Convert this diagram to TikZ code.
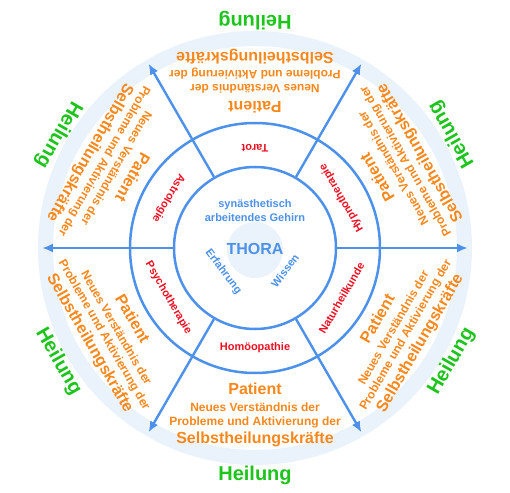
\documentclass[tikz,border=0pt]{standalone}
\usepackage{fontspec}
\setmainfont{Liberation Sans}
\usetikzlibrary{arrows.meta}
\definecolor{wheelblue}{RGB}{77,145,235}
\definecolor{paleblue}{RGB}{234,243,252}
\definecolor{txtorange}{RGB}{248,136,28}
\definecolor{txtgreen}{RGB}{28,196,28}
\definecolor{txtred}{RGB}{236,16,36}
\newcommand\sectorblock[3]{%
  \pgfmathsetmacro\rot{#1+90}%
  \node[redlab, rotate=\rot] (lab#2) at (#1:100) {#3};
  \node[patlab, rotate=\rot] (pat#2) at (#1:141) {Patient};
  \node[smalllab, rotate=\rot] (neu#2) at (#1:159.5) {Neues Verständnis der};
  \node[smalllab, rotate=\rot] (pro#2) at (#1:174.5) {Probleme und Aktivierung der};
  \node[biglab, rotate=\rot] (sel#2) at (#1:191) {Selbstheilungskräfte};
  \node[heillab, rotate=\rot] (hei#2) at (#1:227) {Heilung};
}
\begin{document}
\begin{tikzpicture}[x=1pt,y=1pt,
  ring/.style={circle, draw=wheelblue, line width=2.5pt, inner sep=0pt},
  spoke/.style={draw=wheelblue, line width=2.4pt, -{Latex[length=11pt,width=9pt]}},
  redlab/.style={text=txtred, inner sep=0pt, font=\fontsize{11}{13}\selectfont\bfseries},
  patlab/.style={text=txtorange, inner sep=0pt, font=\fontsize{16}{19}\selectfont\bfseries},
  smalllab/.style={text=txtorange, inner sep=0pt, font=\fontsize{12}{14}\selectfont\bfseries},
  biglab/.style={text=txtorange, inner sep=0pt, font=\fontsize{16}{19}\selectfont\bfseries},
  heillab/.style={text=txtgreen, inner sep=0pt, font=\fontsize{20}{24}\selectfont\bfseries},
  bluelab/.style={text=wheelblue, inner sep=0pt, font=\fontsize{11}{13}\selectfont\bfseries, align=center},
  thoralab/.style={text=wheelblue, inner sep=0pt, font=\fontsize{16}{19}\selectfont\bfseries}
]
\useasboundingbox (-255,-244) rectangle (255,248);
\fill[white] (-255,-244) rectangle (255,248);
% faint background
\fill[paleblue, even odd rule] (0,0) circle (217) (0,0) circle (202);
\fill[paleblue] (0,-2) circle (28);
% circles
\node[ring, minimum size=250] (mid) at (0,0) {};
\node[ring, minimum size=162] (inner) at (0,0) {};
% spokes
\foreach \a in {0,60,120,180,240,300} {
  \coordinate (tip\a) at (\a:213);
  \draw[spoke] (inner.\a) -- (tip\a);
}
% sectors
\sectorblock{90}{n}{Tarot}
\sectorblock{30}{ne}{Hypnotherapie}
\sectorblock{-30}{se}{Naturheilkunde}
\sectorblock{-90}{s}{Homöopathie}
\sectorblock{-150}{sw}{Psychotherapie}
\sectorblock{150}{nw}{Astrologie}
% centre
\node[bluelab] (brain) at (0,37) {synästhetisch\\[1pt]arbeitendes Gehirn};
\node[thoralab] (thora) at (0,-1) {THORA};
\node[bluelab, rotate=-53] (erf) at (-31.7,-23.7) {Erfahrung};
\node[bluelab, rotate=53] (wis) at (30,-22.7) {Wissen};
\end{tikzpicture}
\end{document}
